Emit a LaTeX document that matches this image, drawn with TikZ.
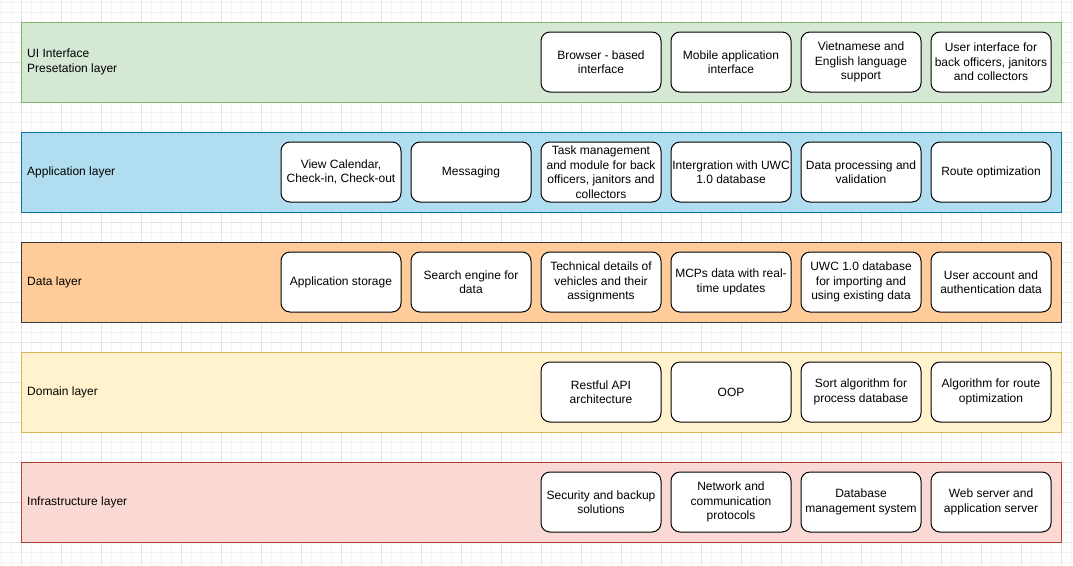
\documentclass[tikz,border=0pt]{standalone}
\usepackage{fontspec}
\setmainfont{Liberation Sans}
\begin{document}
\begin{tikzpicture}[x=1pt,y=-1pt,
  txt/.style={font=\fontsize{12}{14.5}\selectfont, text=black},
  layer/.style={draw, line width=1pt, minimum width=1040pt, minimum height=80pt, inner sep=0pt},
  card/.style={txt, draw=black, fill=white, line width=1pt, rounded corners=9pt,
    minimum width=120pt, minimum height=60pt, align=center, inner sep=0pt},
  lbl/.style={txt, anchor=west, align=left, inner sep=0pt}]
\definecolor{gridminor}{HTML}{F3F3F3}
\definecolor{gridmajor}{HTML}{E3E3E3}
\definecolor{uifill}{HTML}{D5E8D4}\definecolor{uiline}{HTML}{82B366}
\definecolor{appfill}{HTML}{B1DDF0}\definecolor{appline}{HTML}{10739E}
\definecolor{datafill}{HTML}{FFCC99}\definecolor{dataline}{HTML}{36393D}
\definecolor{domfill}{HTML}{FFF2CC}\definecolor{domline}{HTML}{D6B656}
\definecolor{infrafill}{HTML}{FAD9D5}\definecolor{infraline}{HTML}{AE4132}
\useasboundingbox (0,0) rectangle (1073,565);
\fill[white] (0,0) rectangle (1073,565);
% background grid: minor every 10, major every 40
\foreach \i in {0,...,108} {\draw[gridminor, line width=0.8pt] ({1+10*\i},0) -- ({1+10*\i},565);}
\foreach \j in {0,...,56} {\draw[gridminor, line width=0.8pt] (0,{2+10*\j}) -- (1073,{2+10*\j});}
\foreach \i in {0,...,26} {\draw[gridmajor, line width=0.8pt] ({21+40*\i},0) -- ({21+40*\i},565);}
\foreach \j in {0,...,13} {\draw[gridmajor, line width=0.8pt] (0,{22+40*\j}) -- (1073,{22+40*\j});}

% layers
\node[layer, fill=uifill, draw=uiline] (ui) at (541,62) {};
\node[layer, fill=appfill, draw=appline] (app) at (541,172) {};
\node[layer, fill=datafill, draw=dataline] (data) at (541,282) {};
\node[layer, fill=domfill, draw=domline] (dom) at (541,392) {};
\node[layer, fill=infrafill, draw=infraline] (infra) at (541,502) {};

\node[lbl] (uil) at (27,62) {UI Interface\\Presetation layer};
\node[lbl] (appl) at (27,172) {Application layer};
\node[lbl] (datal) at (27,282) {Data layer};
\node[lbl] (doml) at (27,392) {Domain layer};
\node[lbl] (infral) at (27,502) {Infrastructure layer};

% UI layer
\node[card] (u1) at (601,62) {Browser - based\\interface};
\node[card] (u2) at (731,62) {Mobile application\\interface};
\node[card] (u3) at (861,62) {Vietnamese and\\English language\\support};
\node[card] (u4) at (991,62) {User interface for\\back officers, janitors\\and collectors};

% application layer
\node[card] (a1) at (341,172) {View Calendar,\\Check-in, Check-out};
\node[card] (a2) at (471,172) {Messaging};
\node[card] (a3) at (601,172) {Task management\\and module for back\\officers, janitors and\\collectors};
\node[card] (a4) at (731,172) {Intergration with UWC\\1.0 database};
\node[card] (a5) at (861,172) {Data processing and\\validation};
\node[card] (a6) at (991,172) {Route optimization};

% data layer
\node[card] (d1) at (341,282) {Application storage};
\node[card] (d2) at (471,282) {Search engine for\\data};
\node[card] (d3) at (601,282) {Technical details of\\vehicles and their\\assignments};
\node[card] (d4) at (731,282) {MCPs data with real-\\time updates};
\node[card] (d5) at (861,282) {UWC 1.0 database\\for importing and\\using existing data};
\node[card] (d6) at (991,282) {User account and\\authentication data};

% domain layer
\node[card] (m1) at (601,392) {Restful API\\architecture};
\node[card] (m2) at (731,392) {OOP};
\node[card] (m3) at (861,392) {Sort algorithm for\\process database};
\node[card] (m4) at (991,392) {Algorithm for route\\optimization};

% infrastructure layer
\node[card] (i1) at (601,502) {Security and backup\\solutions};
\node[card] (i2) at (731,502) {Network and\\communication\\protocols};
\node[card] (i3) at (861,502) {Database\\management system};
\node[card] (i4) at (991,502) {Web server and\\application server};
\end{tikzpicture}
\end{document}
